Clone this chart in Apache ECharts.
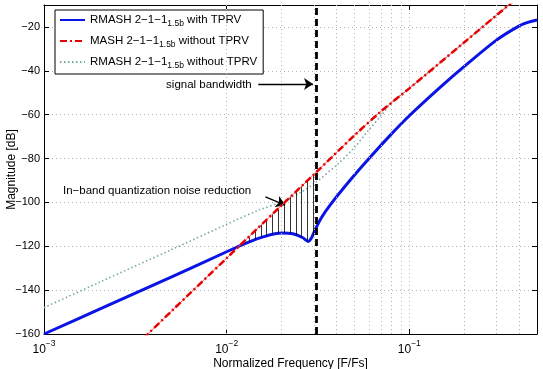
<!DOCTYPE html>
<html>
<head>
<meta charset="utf-8">
<script src="https://cdn.jsdelivr.net/npm/echarts@6/dist/echarts.min.js"></script>
<style>
  html, body { margin: 0; padding: 0; background: #fff; }
  #chart { width: 543px; height: 369px; }
</style>
</head>
<body>
<div id="chart"></div>
<script>
const FONT = '"Liberation Sans", Arial, sans-serif'

// RMASH 2-1-1 with TPRV (blue, solid)
const blueFreq = [0.001, 0.002, 0.005, 0.01, 0.013, 0.016, 0.02, 0.023, 0.026, 0.028, 0.029, 0.0305, 0.033, 0.037, 0.0475, 0.061, 0.079, 0.1, 0.15, 0.2, 0.3, 0.4, 0.45, 0.5]
const blueMag  = [-160, -148.8, -134, -122.5, -118.3, -115.6, -114, -114.3, -116, -117.8, -116.5, -112.5, -107, -101, -89.8, -79.4, -69.2, -60.5, -47, -38, -26, -19.5, -17.8, -16.8]

// MASH 2-1-1 without TPRV (red, dash-dot)
const redFreq = [0.0035, 0.005, 0.01, 0.02, 0.03, 0.05, 0.07, 0.1, 0.2, 0.35, 0.4]
const redMag  = [-162, -149.5, -125.4, -101.3, -87.3, -69.5, -58.5, -48, -27, -10, -6]

// RMASH 2-1-1 without TPRV (grey-teal, dotted)
const dotFreq = [0.001, 0.002, 0.005, 0.01, 0.015, 0.02, 0.025, 0.03, 0.04, 0.05, 0.06, 0.07, 0.08, 0.1, 0.2, 0.35, 0.4]
const dotMag  = [-148, -136.5, -121.5, -110, -103.5, -99.8, -95.8, -91.5, -83, -75, -67, -60.5, -54.5, -48, -27, -10, -6]

// hatching between the red and blue curves
const hatchFreq   = [0.0123, 0.0133, 0.0143, 0.0155, 0.0165, 0.0178, 0.0192, 0.0207, 0.0223, 0.024, 0.0256, 0.0276, 0.0298]
const hatchTop    = [-118.2, -115.5, -113.0, -110.2, -108.0, -105.4, -102.8, -100.1, -97.5, -95.0, -92.7, -90.1, -87.5]
const hatchBottom = [-119.2, -117.9, -116.9, -115.9, -115.2, -114.5, -114.1, -113.9, -114.2, -114.9, -115.8, -117.5, -115.3]

const bandwidth = 0.031
const minorGridX = [0.002, 0.003, 0.004, 0.005, 0.006, 0.007, 0.008, 0.009,
                    0.02, 0.03, 0.04, 0.05, 0.06, 0.07, 0.08, 0.09, 0.2, 0.3, 0.4]

const legendLabels = {
  blue: '{n|RMASH 2\u22121\u22121}{sub|1.5b}{n| with TPRV}',
  red: '{n|MASH 2\u22121\u22121}{sub|1.5b}{n| without TPRV}',
  dot: '{n|RMASH 2\u22121\u22121}{sub|1.5b}{n| without TPRV}'
}

const zip = (xs, ys) => xs.map((x, i) => [x, ys[i]])
const gridLine = { color: '#b4b4b4', width: 1, type: [1, 3] }
const arrowLine = { color: '#000', width: 1.3, type: 'solid' }

const chart = echarts.init(document.getElementById('chart'))

const option = {
  animation: false,
  backgroundColor: '#fff',
  textStyle: { fontFamily: FONT },
  grid: { left: 44, right: 6, top: 5, bottom: 35, outerBoundsMode: 'none', containLabel: false },
  legend: {
    data: ['blue', 'red', 'dot'],
    orient: 'vertical',
    left: 55, top: 10,
    itemWidth: 25, itemHeight: 10, itemGap: 7,
    padding: [4, 6, 4, 4],
    backgroundColor: '#fff',
    borderColor: '#000', borderWidth: 1,
    itemStyle: { opacity: 0 },
    formatter: name => legendLabels[name],
    textStyle: {
      fontFamily: FONT, color: '#000',
      rich: {
        n: { fontFamily: FONT, fontSize: 11.5, color: '#000' },
        sub: { fontFamily: FONT, fontSize: 8.5, color: '#000', padding: [7, 0, 0, 0] }
      }
    }
  },
  xAxis: [{
    type: 'log', logBase: 10, min: 0.001, max: 0.5,
    name: 'Normalized Frequency [F/Fs]', nameLocation: 'middle', nameGap: 24, nameMoveOverlap: false,
    nameTextStyle: { fontFamily: FONT, fontSize: 12, color: '#000' },
    axisLine: { lineStyle: { color: '#000', width: 1 } },
    axisTick: { inside: true, length: 5, lineStyle: { color: '#000' } },
    splitLine: { show: true, lineStyle: gridLine },
    axisLabel: {
      margin: 4, showMaxLabel: false, color: '#000',
      formatter: v => '{b|10}{s|' + '\u2212' + Math.abs(Math.round(Math.log10(v))) + '}',
      rich: {
        b: { fontFamily: FONT, fontSize: 12, color: '#000', padding: [6, 0, 0, 0] },
        s: { fontFamily: FONT, fontSize: 8.5, color: '#000', padding: [0, 0, 6, 0] }
      }
    }
  }, {
    type: 'log', logBase: 10, min: 0.001, max: 0.5, position: 'top',
    axisLine: { lineStyle: { color: '#000', width: 1 } },
    axisTick: { inside: true, length: 5, lineStyle: { color: '#000' } },
    axisLabel: { show: false }, splitLine: { show: false }
  }],
  yAxis: [{
    type: 'value', min: -160, max: -10, interval: 20,
    name: 'Magnitude [dB]', nameLocation: 'middle', nameGap: 26, nameMoveOverlap: false,
    nameTextStyle: { fontFamily: FONT, fontSize: 12, color: '#000' },
    axisLine: { show: true, lineStyle: { color: '#000', width: 1 } },
    axisTick: { show: true, inside: true, length: 5, lineStyle: { color: '#000' } },
    splitLine: { show: true, lineStyle: gridLine },
    axisLabel: {
      margin: 4, showMaxLabel: false, color: '#000', fontFamily: FONT, fontSize: 11,
      formatter: v => (v < 0 ? '\u2212' : '') + Math.abs(v)
    }
  }, {
    type: 'value', min: -160, max: -10, interval: 20, position: 'right',
    axisLine: { show: true, lineStyle: { color: '#000', width: 1 } },
    axisTick: { show: true, inside: true, length: 5, lineStyle: { color: '#000' } },
    axisLabel: { show: false }, splitLine: { show: false }
  }],
  series: [
    {
      // minor grid and hatching
      name: 'decor', type: 'line', data: [], silent: true,
      markLine: {
        silent: true, symbol: 'none', animation: false,
        label: { show: false },
        data: [
          ...minorGridX.map(v => ({ xAxis: v, lineStyle: gridLine })),
          ...hatchFreq.map((f, i) => [
            { coord: [f, hatchTop[i]], lineStyle: { color: '#000', width: 0.8, type: 'solid' } },
            { coord: [f, hatchBottom[i]] }
          ])
        ]
      }
    },
    {
      name: 'dot', type: 'line', data: zip(dotFreq, dotMag), smooth: 0.3,
      showSymbol: false, symbol: 'none', z: 3,
      lineStyle: { color: '#78aaa4', width: 1.6, type: [1.5, 2.5] },
      itemStyle: { color: '#78aaa4' }
    },
    {
      name: 'blue', type: 'line', data: zip(blueFreq, blueMag), smooth: 0.3,
      showSymbol: false, symbol: 'none', z: 4,
      lineStyle: { color: '#0a14e6', width: 3 },
      itemStyle: { color: '#0a14e6' }
    },
    {
      name: 'redcore', type: 'line', data: zip(redFreq, redMag), smooth: 0.3,
      showSymbol: false, symbol: 'none', z: 5,
      lineStyle: { color: '#ff5a5a', width: 1 }
    },
    {
      name: 'red', type: 'line', data: zip(redFreq, redMag), smooth: 0.3,
      showSymbol: false, symbol: 'none', z: 6,
      lineStyle: { color: '#e60000', width: 2.5, type: [7, 3, 2, 3] },
      itemStyle: { color: '#e60000' }
    },
    {
      // bandwidth marker, arrows and annotations
      name: 'marker', type: 'line', data: [], silent: true, z: 7,
      markLine: {
        silent: true, symbol: 'none', symbolSize: 9, animation: false,
        label: { show: false },
        data: [
          [{ xAxis: bandwidth, yAxis: -160, symbol: 'none', lineStyle: { color: '#000', width: 2.8, type: [7, 4] } },
           { xAxis: bandwidth, yAxis: -10, symbol: 'none' }],
          [{ coord: [0.0149, -46], symbol: 'none', lineStyle: arrowLine },
           { coord: [0.0297, -46], symbol: 'arrow', symbolSize: 9 }],
          [{ coord: [0.0163, -97.5], symbol: 'none', lineStyle: arrowLine },
           { coord: [0.0209, -101.2], symbol: 'arrow', symbolSize: 9 }]
        ]
      },
      markPoint: {
        silent: true, symbol: 'circle', symbolSize: 0, animation: false,
        label: {
          show: true, position: [0, 0], align: 'left', verticalAlign: 'middle',
          fontFamily: FONT, fontSize: 11.5, color: '#000'
        },
        data: [
          { coord: [0.00466, -46.5], value: 'signal bandwidth', label: { formatter: 'signal bandwidth' } },
          { coord: [0.00127, -94.8], value: 'In\u2212band', label: { formatter: 'In\u2212band quantization noise reduction' } }
        ]
      }
    }
  ]
}

chart.setOption(option)
</script>
</body>
</html>
